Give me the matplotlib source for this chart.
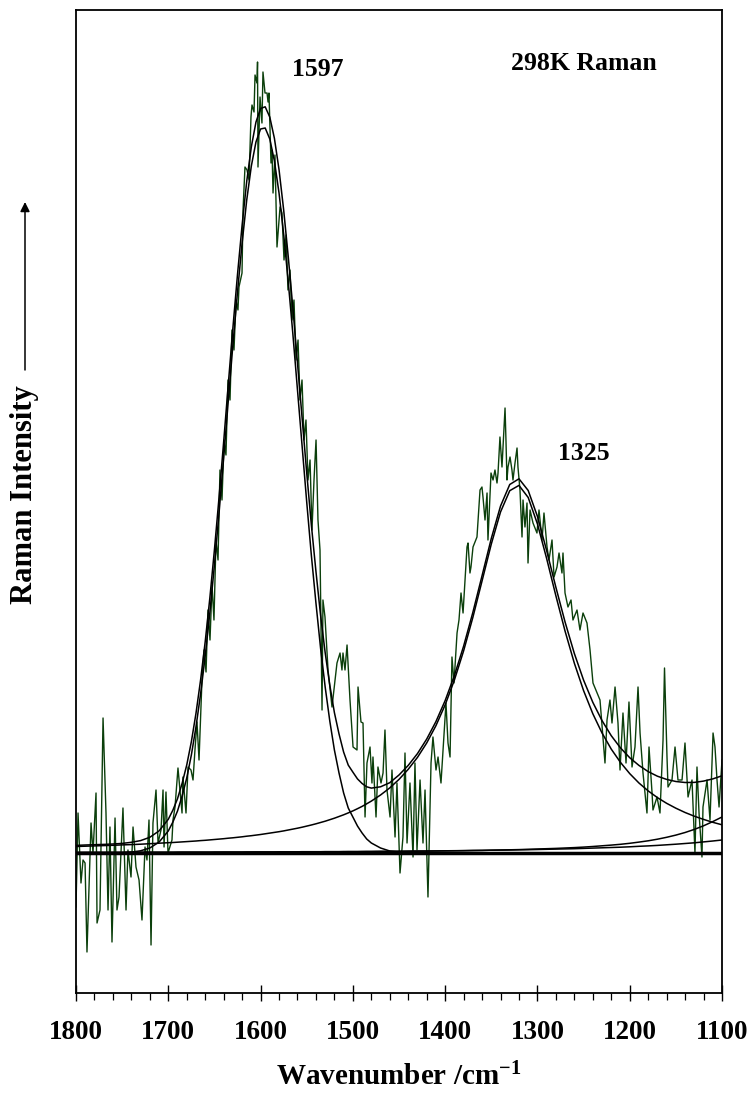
import numpy as np
import matplotlib
matplotlib.use("Agg")
import matplotlib.pyplot as plt
from matplotlib.ticker import MultipleLocator

plt.rcParams['font.family'] = ['Liberation Serif', 'DejaVu Serif']
plt.rcParams['font.weight'] = 'bold'
plt.rcParams['mathtext.fontset'] = 'custom'
plt.rcParams['mathtext.rm'] = 'Liberation Serif:bold'
plt.rcParams['mathtext.bf'] = 'Liberation Serif:bold'
plt.rcParams['mathtext.it'] = 'Liberation Serif:bold'

# ---------------- measured Raman spectrum (wavenumber, intensity) ----------------
raman_x = [
    1800, 1797.8, 1794.6, 1792.4, 1790.2, 1788.1, 1783.7, 1781.6, 1778.3, 1777.2,
    1774.0, 1770.7, 1767.5, 1765.3, 1763.2, 1761.0, 1757.7, 1755.6, 1753.4, 1749.1,
    1745.8, 1743.7, 1740.4, 1738.2, 1735.0, 1731.7, 1728.5, 1725.2, 1723.1, 1720.9,
    1718.7, 1716.6, 1713.3, 1711.1, 1707.9, 1705.7, 1704.6, 1702.5, 1700.3, 1696.0,
    1694.9, 1692.7, 1689.5, 1685.1, 1684.1, 1680.8, 1678.6, 1675.4, 1673.2, 1671.1,
    1668.9, 1666.7, 1663.5, 1661.3, 1659.1, 1657.0, 1654.8, 1652.6, 1650.5, 1648.3,
    1646.1, 1644.0, 1641.8, 1639.6, 1637.5, 1635.3, 1633.1, 1631.0, 1628.8, 1626.6,
    1624.5, 1623.4, 1620.1, 1619.0, 1616.9, 1614.7, 1612.5, 1610.4, 1609.3, 1607.1,
    1606.0, 1603.9, 1603.3, 1602.8, 1600.6, 1598.5, 1597.4, 1595.2, 1593.0, 1591.9,
    1590.9, 1588.7, 1587.6, 1586.5, 1584.4, 1582.2, 1578.9, 1576.8, 1574.6, 1572.4,
    1570.3, 1568.1, 1565.9, 1563.8, 1561.6, 1559.4, 1557.3, 1555.1, 1552.9, 1550.8,
    1548.6, 1546.4, 1544.3, 1542.1, 1539.9, 1537.8, 1535.6, 1533.4, 1532.4, 1530.2,
    1526.9, 1522.6, 1517.2, 1513.9, 1511.8, 1510.7, 1508.5, 1506.3, 1503.1, 1499.8,
    1495.5, 1494.4, 1491.2, 1489.0, 1486.8, 1484.7, 1481.4, 1479.3, 1478.2, 1474.9,
    1472.8, 1469.5, 1467.3, 1465.2, 1463.0, 1459.7, 1457.6, 1454.3, 1452.2, 1448.9,
    1445.7, 1443.5, 1441.3, 1438.1, 1434.8, 1432.7, 1430.5, 1427.2, 1424.0, 1421.8,
    1418.6, 1415.3, 1413.2, 1409.9, 1407.7, 1404.5, 1402.3, 1399.1, 1396.9, 1394.7,
    1392.6, 1390.4, 1387.1, 1385.0, 1382.8, 1380.6, 1376.3, 1375.2, 1373.1, 1372.0,
    1369.8, 1365.5, 1362.2, 1360.1, 1359.0, 1356.8, 1354.6, 1353.6, 1350.3, 1348.1,
    1346.0, 1343.8, 1342.7, 1340.6, 1338.4, 1337.3, 1335.1, 1334.1, 1333.0, 1331.9,
    1329.7, 1327.6, 1326.5, 1324.3, 1322.1, 1321.1, 1318.9, 1316.7, 1315.6, 1313.5,
    1311.3, 1310.2, 1308.0, 1304.8, 1300.5, 1298.3, 1295.0, 1292.9, 1289.6, 1287.5,
    1284.2, 1282.0, 1278.8, 1276.6, 1273.4, 1272.3, 1270.1, 1266.9, 1263.6, 1261.5,
    1257.1, 1253.9, 1250.6, 1246.3, 1243.0, 1239.8, 1232.2, 1226.8, 1224.6, 1221.4,
    1219.2, 1215.9, 1212.7, 1210.5, 1207.3, 1204.0, 1200.8, 1197.5, 1194.3, 1191.0,
    1188.8, 1185.6, 1181.3, 1179.1, 1175.8, 1174.8, 1170.4, 1167.2, 1163.9, 1162.3,
    1159.6, 1158.5, 1154.2, 1150.9, 1147.7, 1143.3, 1140.1, 1136.8, 1132.5, 1129.3,
    1127.1, 1124.9, 1121.7, 1120.6, 1116.2, 1113.0, 1109.7, 1107.6, 1105.4, 1103.2,
    1100.0]
raman_y = [
    -54, 40, -30, -7, -10, -99, 30, 0, 60, -70,
    -57, 135, 40, -57, 26, -89, 35, -57, -44, 45,
    -57, 3, -24, 26, -14, -27, -67, 6, -7, 33,
    -92, 30, 63, 10, 23, 63, 6, 61, 0, 13,
    33, 46, 85, 40, 76, 40, 86, 83, 73, 103,
    131, 93, 173, 203, 181, 243, 213, 268, 233, 313,
    293, 383, 353, 413, 398, 473, 453, 523, 503, 553,
    543, 566, 580, 643, 686, 683, 673, 736, 748, 741,
    778, 770, 791, 686, 756, 730, 781, 760, 760, 751,
    760, 690, 703, 660, 698, 606, 646, 640, 593, 618,
    563, 583, 533, 553, 493, 513, 453, 473, 413, 433,
    373, 393, 323, 373, 413, 333, 303, 143, 253, 236,
    183, 146, 190, 200, 183, 200, 183, 208, 153, 106,
    103, 166, 131, 130, 36, 90, 106, 70, 96, 36,
    86, 70, 80, 123, 63, 36, 83, 16, 70, -20,
    16, 100, 10, 70, -4, 90, 3, 73, 10, 63,
    -44, 90, 116, 83, 96, 70, 103, 150, 110, 96,
    196, 170, 220, 233, 260, 240, 306, 310, 280, 286,
    306, 316, 363, 366, 356, 333, 360, 313, 380, 373,
    383, 370, 380, 416, 386, 406, 445, 413, 373, 386,
    396, 383, 373, 390, 405, 386, 363, 316, 353, 326,
    350, 290, 343, 330, 320, 343, 313, 340, 306, 293,
    313, 276, 286, 300, 280, 300, 260, 246, 253, 233,
    243, 223, 240, 230, 203, 170, 153, 90, 133, 153,
    130, 166, 130, 83, 140, 90, 151, 86, 106, 166,
    120, 80, 40, 106, 60, 43, 56, 40, 113, 185,
    96, 66, 73, 106, 73, 73, 110, 56, 73, 0,
    86, 40, -4, 46, 73, 33, 120, 106, 73, 46,
    93]

# ---------------- fitted band components on a wavenumber grid ----------------
fit_x = np.concatenate([np.arange(1800, 1699, -10),
                        np.arange(1695, 1479, -5),
                        np.arange(1470, 1099, -10)])

band_1597 = [0, 0, 0, 0, 0.1, 0.3, 0.9, 2.2, 5.0, 10.9, 22,
             31, 42, 57, 75, 98, 126, 159, 197, 240, 288, 340, 395, 452, 508, 561,
             610, 653, 687, 711, 724, 725, 714, 692, 660, 619, 571, 519, 463, 407,
             351, 298, 250, 205, 166, 132, 103, 80, 60, 45, 36, 27, 20, 14, 10,
             5, 2, 1, 0.3] + [0] * 34

band_1325 = [6.5, 6.8, 7.1, 7.4, 7.7, 8.1, 8.4, 8.8, 9.3, 9.8, 10.3,
             10.5, 10.8, 11.1, 11.4, 11.7, 12.0, 12.4, 12.7, 13.1, 13.5, 13.9, 14.3,
             14.8, 15.2, 15.7, 16.2, 16.8, 17.3, 17.9, 18.5, 19.2, 19.9, 20.6, 21.3,
             22.1, 23.0, 23.9, 24.8, 25.8, 26.9, 28.0, 29.2, 30.5, 31.8, 33.3, 34.8,
             36.5, 38.2, 40.1, 42.1, 44.3, 46.6, 49.2, 51.9,
             58.0, 65.1, 73.6, 83.7, 95.6, 110.0, 127.3, 148.1, 172.9, 202.1, 235.5,
             272.1, 308.9, 341.0, 362.3, 367.6, 355.5, 329.1, 294.4, 257.2, 221.7,
             189.8, 162.4, 139.3, 120.0, 103.9, 90.6, 79.4, 70.0, 62.1, 55.4, 49.7,
             44.8, 40.5, 36.8, 33.6, 30.7, 28.2]

band_low1 = [0.5, 0.5, 0.5, 0.5, 0.5, 0.5, 0.6, 0.6, 0.6, 0.6, 0.6,
             0.6, 0.6, 0.7, 0.7, 0.7, 0.7, 0.7, 0.7, 0.7, 0.7, 0.7, 0.8, 0.8, 0.8,
             0.8, 0.8, 0.8, 0.8, 0.9, 0.9, 0.9, 0.9, 0.9, 0.9, 1.0, 1.0, 1.0, 1.0,
             1.0, 1.0, 1.1, 1.1, 1.1, 1.1, 1.2, 1.2, 1.2, 1.2, 1.3, 1.3, 1.3, 1.3,
             1.4, 1.4,
             1.5, 1.5, 1.6, 1.7, 1.8, 1.9, 2.0, 2.1, 2.2, 2.3, 2.5, 2.6, 2.8, 3.0,
             3.2, 3.4, 3.7, 4.0, 4.3, 4.6, 5.0, 5.4, 5.9, 6.5, 7.2, 7.9, 8.7, 9.7,
             10.9, 12.2, 13.8, 15.7, 17.9, 20.5, 23.6, 27.2, 31.4, 36.0]

band_low2 = [0.6, 0.7, 0.7, 0.7, 0.7, 0.7, 0.8, 0.8, 0.8, 0.8, 0.8,
             0.8, 0.9, 0.9, 0.9, 0.9, 0.9, 0.9, 0.9, 0.9, 1.0, 1.0, 1.0, 1.0, 1.0,
             1.0, 1.0, 1.1, 1.1, 1.1, 1.1, 1.1, 1.1, 1.1, 1.2, 1.2, 1.2, 1.2, 1.2,
             1.3, 1.3, 1.3, 1.3, 1.3, 1.4, 1.4, 1.4, 1.4, 1.5, 1.5, 1.5, 1.5, 1.6,
             1.6, 1.6,
             1.7, 1.7, 1.8, 1.9, 2.0, 2.0, 2.1, 2.2, 2.3, 2.4, 2.5, 2.6, 2.8, 2.9,
             3.0, 3.2, 3.3, 3.5, 3.7, 3.9, 4.1, 4.3, 4.6, 4.9, 5.2, 5.5, 5.8, 6.2,
             6.7, 7.1, 7.6, 8.2, 8.8, 9.5, 10.2, 11.1, 12.0, 13.0]

baseline_x = [1800, 1100]
baseline_y = [0, 0]

tick_values = [1800, 1700, 1600, 1500, 1400, 1300, 1200, 1100]
tick_labels = [str(v) for v in tick_values]

peak_labels = ['1597', '1325']
peak_label_pos = [(1537.8, 783), (1249.5, 400)]
title_text = '298K Raman'
title_pos = (1249.5, 789)

fit_total = (np.array(band_1597) + np.array(band_1325)
             + np.array(band_low1) + np.array(band_low2))

# ---------------- figure ----------------
fig = plt.figure(figsize=(7.52, 11.02), dpi=100)
ax = fig.add_axes([76 / 752, 1 - 993 / 1102, 646 / 752, 983 / 1102])

ax.plot(raman_x, raman_y, color='#0b3f0b', lw=1.0, zorder=2)
for band in (band_1597, band_1325, band_low1, band_low2):
    ax.plot(fit_x, band, color='black', lw=1.1, zorder=3)
ax.plot(fit_x, fit_total, color='black', lw=1.1, zorder=3)
ax.plot(baseline_x, baseline_y, color='black', lw=2.5, zorder=3, solid_capstyle='butt')

ax.set_xlim(1800, 1100)
ax.set_ylim(-140, 843)

ax.set_xticks(tick_values)
ax.set_xticklabels(tick_labels, fontsize=19.5, fontweight='bold')
ax.xaxis.set_minor_locator(MultipleLocator(20))
ax.tick_params(axis='x', which='major', direction='inout', length=11.5, width=1.0,
               pad=14, top=False)
ax.tick_params(axis='x', which='minor', direction='out', length=5, width=0.9, top=False)
ax.tick_params(axis='y', which='both', left=False, right=False, labelleft=False)
for sp in ax.spines.values():
    sp.set_linewidth(1.3)

ax.set_xlabel('Wavenumber /cm$^{\\mathbf{-1}}$', fontsize=21, fontweight='bold')
ax.xaxis.set_label_coords(0.5, (993 - 1077) / 983)
ax.xaxis.label.set_va('center')

ax.set_ylabel('Raman Intensity', fontsize=22, fontweight='bold')
ax.yaxis.set_label_coords((25 - 76) / 646, (993 - 495) / 983)
ax.yaxis.label.set_va('center')

ax.annotate('', xy=((25 - 76) / 646, (993 - 202) / 983),
            xytext=((25 - 76) / 646, (993 - 370) / 983),
            xycoords='axes fraction', annotation_clip=False,
            arrowprops=dict(arrowstyle='-|>', color='black', lw=1.1,
                            mutation_scale=14, shrinkA=0, shrinkB=0))

for txt, (px, py) in zip(peak_labels, peak_label_pos):
    ax.text(px, py, txt, ha='center', va='center', fontsize=18.5, fontweight='bold')
ax.text(title_pos[0], title_pos[1], title_text, ha='center', va='center',
        fontsize=18.5, fontweight='bold')

fig.savefig('out.png', dpi=100)
